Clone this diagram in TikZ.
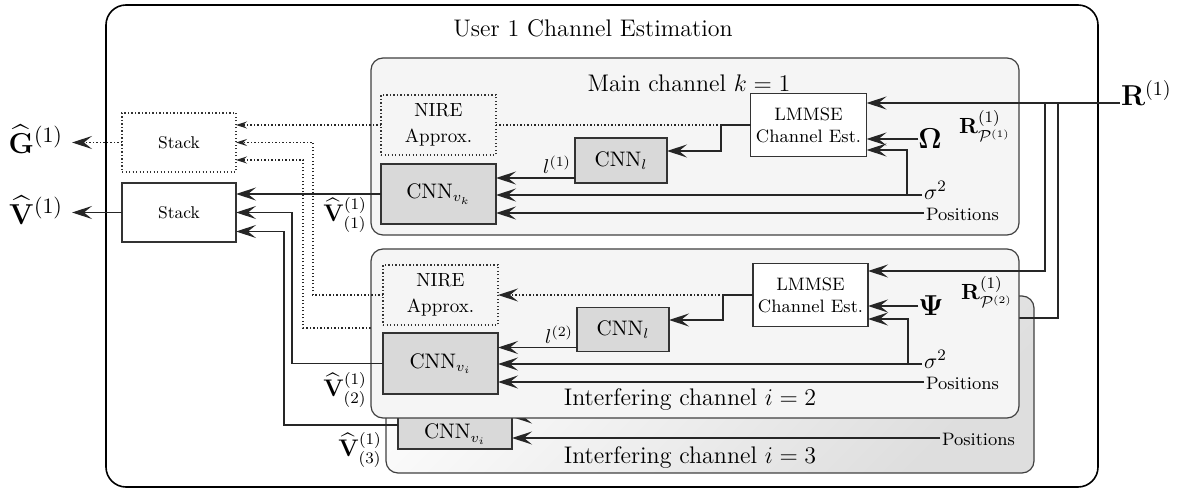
\documentclass[tikz,border=0pt]{standalone}
\usepackage{amsmath,amssymb}
\usepackage[no-math]{fontspec}
\usetikzlibrary{arrows.meta,calc}
\newcommand{\fs}[1]{\fontsize{#1}{#1}\selectfont}
\begin{document}
\begin{tikzpicture}[x=0.5pt,y=-0.5pt,
  every node/.style={inner sep=0pt, outer sep=0pt},
  ln/.style={line width=0.65pt, draw=black!85},
  dl/.style={line width=0.65pt, draw=black!85, dash pattern=on 0.65pt off 1.1pt},
  arr/.style={ln, -{Stealth[length=10pt,width=6.5pt,inset=4pt]}},
  darr/.style={dl, -{Stealth[length=10pt,width=6.5pt,inset=4pt]}},
  sarr/.style={dl, -{Stealth[length=5.5pt,width=3.5pt,inset=2pt]}},
  blk/.style={draw=black!75, line width=0.6pt, fill=black!4, rounded corners=6pt},
  bx/.style={draw=black!80, line width=0.6pt, fill=white, align=center, font=\fontsize{9}{11}\selectfont},
  cnn/.style={bx, fill=black!15, font=\fs{10.5}},
  dbx/.style={draw=black!80, line width=0.6pt, dash pattern=on 0.65pt off 1.1pt, align=center, font=\fontsize{9.5}{13}\selectfont},
  ttl/.style={font=\fs{12}},
  lab/.style={font=\fs{9}}
]
\useasboundingbox (0,0) rectangle (1200,491);

% outer box
\draw[line width=0.8pt, rounded corners=10pt] (106,5) rectangle (1098,487);
\node[ttl] (title) at (593,28) {User 1 Channel Estimation};

% stacks
\node[dbx, font=\fs{8.5}, minimum width=57pt, minimum height=29.5pt] (stkG) at (179,142.5) {Stack};
\node[bx, font=\fs{8.5}, minimum width=57pt, minimum height=29.5pt] (stkV) at (179,212.5) {Stack};
\node[anchor=east, inner xsep=4.5pt, font=\fs{15}] (Gh) at (72,139) {$\widehat{\mathbf{G}}^{(1)}$};
\node[anchor=east, inner xsep=4.5pt, font=\fs{15}] (Vh) at (72,210) {$\widehat{\mathbf{V}}^{(1)}$};
\draw[darr] (stkG.west) -- (Gh.east |- stkG.west);
\draw[arr] (stkV.west) -- (Vh.east |- stkV.west);

% interfering channel i=3 (background)
\path[draw=black!75, line width=0.6pt, rounded corners=6pt, top color=black!1, bottom color=black!13, shading angle=45] (386,296) rectangle (1034,473);
\node[cnn, minimum width=57pt, minimum height=24pt] (cnn3) at (455,425) {};
\coordinate (h3) at (700,417);
\draw[arr] (h3) -- (cnn3.east |- h3);
\coordinate (lm3) at (1000,318);
\coordinate (j1) at (1045,103);
\coordinate (j2) at (1058,103);
\draw[ln] (j2) |- (lm3);
\coordinate (nire3) at (395,328);
\draw[sarr] (nire3) -| (303,160) -- ($(stkG.east)+(0,17.5)$);

% interfering channel i=2
\path[blk] (371,249) rectangle (1019,418);
\node[ttl] (t2) at (690,400) {Interfering channel $i=2$};
\node[dbx, minimum width=57.5pt, minimum height=30pt] (nire2) at (440.5,295) {NIRE\\Approx.};
\node[cnn, minimum width=46pt, minimum height=22pt] (cnnl2) at (623,329.5) {CNN$_l$};
\node[cnn, minimum width=57.5pt, minimum height=30.5pt] (cnnv2) at (440.5,363.5) {CNN$_{v_i}$};
\node[bx, minimum width=57.5pt, minimum height=31.5pt] (lmmse2) at (810.5,295) {LMMSE\\Channel Est.};
\node[font=\fs{14}] (Psi) at (931,306) {$\mathbf{\Psi}$};
\coordinate (sig2E) at (922,364);
\node[anchor=west, font=\fs{11}] (sig2) at (924,359) {$\sigma^2$};
\coordinate (pos2E) at (924,382);
\node[anchor=west, lab] (pos2) at (926,383) {Positions};
\node[font=\fs{11}] (RP2) at (987,292) {$\mathbf{R}^{(1)}_{\mathcal{P}^{(2)}}$};
\coordinate (a2) at (723,295);
\coordinate (b2) at (908,364);
\draw[ln] (lmmse2.west) -- (a2);
\draw[arr] (a2) |- ($(cnnl2.east)+(0,-9.5)$);
\draw[darr] (a2) -- (nire2.east);
\draw[arr] (Psi.west) -- (lmmse2.east |- Psi.west);
\draw[arr] (sig2E) -- (cnnv2.east |- sig2E);
\draw[arr] (b2) |- ($(lmmse2.east)+(0,24)$);
\draw[arr] (pos2E) -- (cnnv2.east |- pos2E);
\coordinate (l2) at ($(cnnl2.south west)+(0,-4)$);
\draw[arr] (l2) -- (cnnv2.east |- l2);
\node[anchor=south east, inner sep=2pt, font=\fs{10}] (l2lab) at (l2) {$l^{(2)}$};
\draw[arr] (cnnv2.west) -| (292,212.5) -- (stkV.east);
\draw[sarr] (nire2.west) -| (313,142.5) -- (stkG.east);
\node[font=\fs{12}] (V2) at (345,390) {$\widehat{\mathbf{V}}^{(1)}_{(2)}$};
\draw[arr] (j1) |- ($(lmmse2.east)+(0,-24)$);

% main channel k=1
\path[blk] (371,58) rectangle (1019,235);
\node[ttl] (t1) at (689,83) {Main channel $k=1$};
\node[dbx, minimum width=57.5pt, minimum height=30pt] (nireM) at (438.5,125) {NIRE\\Approx.};
\node[cnn, minimum width=46pt, minimum height=22.5pt] (cnnlM) at (621,160.5) {CNN$_l$};
\node[cnn, minimum width=57.5pt, minimum height=30pt] (cnnvM) at (438.5,194) {CNN$_{v_k}$};
\node[bx, minimum width=58pt, minimum height=31.5pt] (lmmseM) at (808.5,125) {LMMSE\\Channel Est.};
\node[font=\fs{14}] (Om) at (930,139) {$\mathbf{\Omega}$};
\coordinate (sigE) at (922,195);
\node[anchor=west, font=\fs{11}] (sig) at (924,190) {$\sigma^2$};
\coordinate (posE) at (924,213);
\node[anchor=west, lab] (pos) at (926,214) {Positions};
\node[font=\fs{11}] (RP1) at (985,126) {$\mathbf{R}^{(1)}_{\mathcal{P}^{(1)}}$};
\coordinate (aM) at (721,125);
\coordinate (bM) at (907,195);
\draw[ln] (lmmseM.west) -- (aM);
\draw[arr] (aM) |- ($(cnnlM.east)+(0,-9.5)$);
\draw[dl] (aM) -- (nireM.east);
\draw[sarr] (nireM.west) -- (stkG.east |- nireM.west);
\draw[arr] (Om.west) -- (lmmseM.east |- Om.west);
\draw[arr] (sigE) -- (cnnvM.east |- sigE);
\draw[arr] (bM) |- ($(lmmseM.east)+(0,25)$);
\draw[arr] (posE) -- (cnnvM.east |- posE);
\coordinate (lM) at ($(cnnlM.south west)+(0,-5)$);
\draw[arr] (lM) -- (cnnvM.east |- lM);
\node[anchor=south east, inner sep=2pt, font=\fs{10}] (l1lab) at (lM) {$l^{(1)}$};
\draw[arr] (cnnvM.west) -- (stkV.east |- cnnvM.west);
\node[font=\fs{12}] (V1) at (345,215) {$\widehat{\mathbf{V}}^{(1)}_{(1)}$};

% received signal
\coordinate (Rin) at (1120,103);
\node[anchor=west, font=\fs{14}] (R) at (1121,93) {$\mathbf{R}^{(1)}$};
\draw[arr] (Rin) -- (lmmseM.east |- Rin);

% interfering channel i=3 (visible parts)
\node[font=\fs{10.5}] (cnn3t) at (455,434) {CNN$_{v_i}$};
\coordinate (pos3E) at (940,438);
\node[anchor=west, lab] (pos3) at (942,439) {Positions};
\draw[arr] (pos3E) -- (cnn3.east |- pos3E);
\draw[arr] (cnn3.west) -| (284,231.5) -- ($(stkV.east)+(0,19)$);
\node[ttl] (t3) at (690,458) {Interfering channel $i=3$};
\node[font=\fs{12}] (V3) at (360,450) {$\widehat{\mathbf{V}}^{(1)}_{(3)}$};
\end{tikzpicture}
\end{document}
